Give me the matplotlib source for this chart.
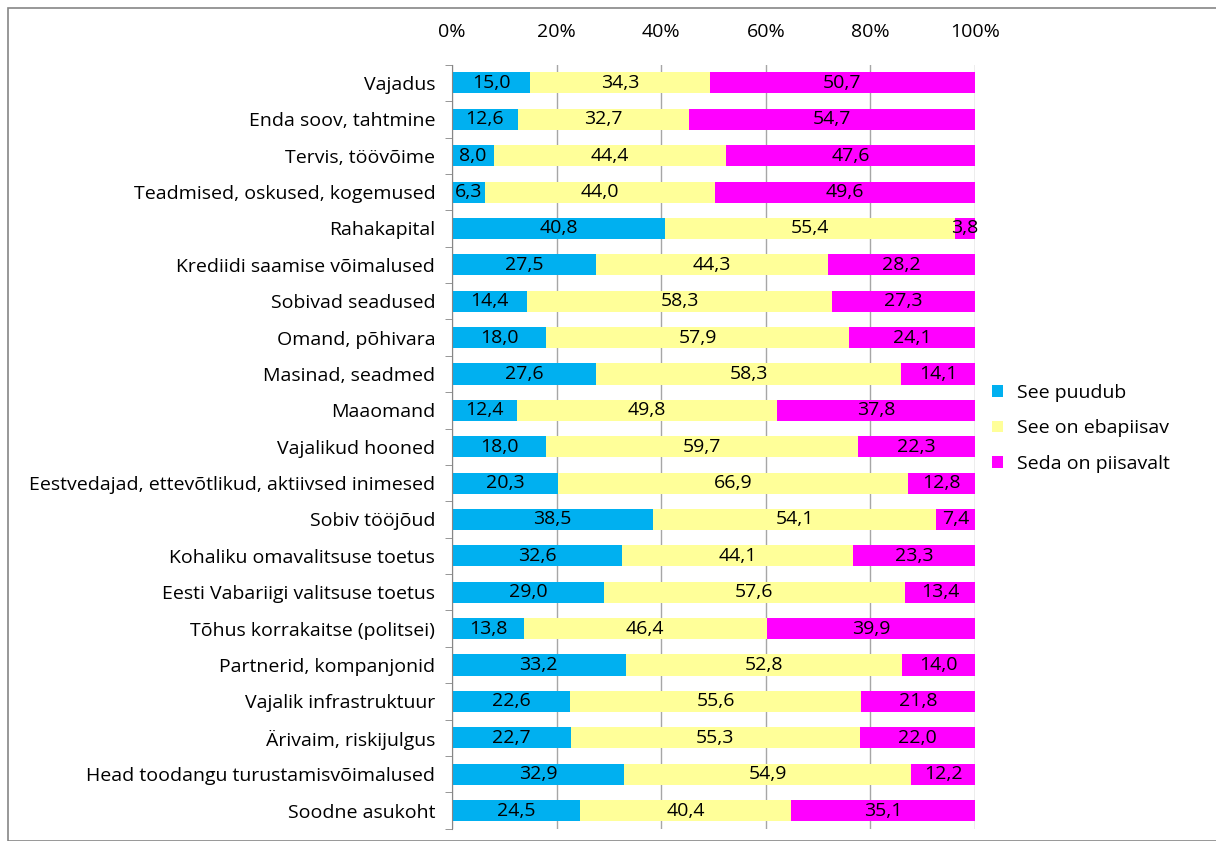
import numpy as np
import matplotlib
matplotlib.use('Agg')
from matplotlib import pyplot as plt
from matplotlib.patches import Rectangle

plt.rcParams['font.family'] = ['Open Sans', 'DejaVu Sans']

# categories (top to bottom)
categories = ['Vajadus', 'Enda soov, tahtmine', 'Tervis, töövõime',
              'Teadmised, oskused, kogemused', 'Rahakapital',
              'Krediidi saamise võimalused', 'Sobivad seadused',
              'Omand, põhivara', 'Masinad, seadmed', 'Maaomand',
              'Vajalikud hooned', 'Eestvedajad, ettevõtlikud, aktiivsed inimesed',
              'Sobiv tööjõud', 'Kohaliku omavalitsuse toetus',
              'Eesti Vabariigi valitsuse toetus', 'Tõhus korrakaitse (politsei)',
              'Partnerid, kompanjonid', 'Vajalik infrastruktuur',
              'Ärivaim, riskijulgus', 'Head toodangu turustamisvõimalused',
              'Soodne asukoht']

puudub = [15.0, 12.6, 8.0, 6.3, 40.8, 27.5, 14.4, 18.0, 27.6, 12.4, 18.0,
          20.3, 38.5, 32.6, 29.0, 13.8, 33.2, 22.6, 22.7, 32.9, 24.5]
ebapiisav = [34.3, 32.7, 44.4, 44.0, 55.4, 44.3, 58.3, 57.9, 58.3, 49.8, 59.7,
             66.9, 54.1, 44.1, 57.6, 46.4, 52.8, 55.6, 55.3, 54.9, 40.4]
piisavalt = [50.7, 54.7, 47.6, 49.6, 3.8, 28.2, 27.3, 24.1, 14.1, 37.8, 22.3,
             12.8, 7.4, 23.3, 13.4, 39.9, 14.0, 21.8, 22.0, 12.2, 35.1]

series_names = ['See puudub', 'See on ebapiisav', 'Seda on piisavalt']
colors = ['#00B0F0', '#FFFF99', '#FF00FF']
x_ticks = [0, 20, 40, 60, 80, 100]

vals = np.array([puudub, ebapiisav, piisavalt])
shares = vals / vals.sum(axis=0) * 100   # 100% stacked

fig = plt.figure(figsize=(12.16, 8.41), dpi=100)
ax = fig.add_axes([0.3717, 0.0146, 0.4301, 0.9084])

y = np.arange(len(categories))
left = np.zeros(len(categories))
for i in range(3):
    ax.barh(y, shares[i], left=left, height=0.58, color=colors[i],
            label=series_names[i], zorder=2)
    for j in range(len(categories)):
        ax.text(left[j] + shares[i][j] / 2, y[j],
                f'{vals[i][j]:.1f}'.replace('.', ','),
                ha='center', va='center', fontsize=14, color='black', zorder=3)
    left += shares[i]

ax.set_xlim(0, 100)
ax.set_ylim(len(categories) - 0.5, -0.5)
ax.set_xticks(x_ticks)
ax.set_xticklabels([f'{t}%' for t in x_ticks], fontsize=14)
ax.xaxis.tick_top()
ax.tick_params(axis='x', length=0, pad=17)
ax.set_yticks(y)
ax.set_yticklabels(categories, fontsize=14)
ax.tick_params(axis='y', length=0, pad=12)
ax.set_yticks(np.arange(-0.5, len(categories), 1), minor=True)
ax.tick_params(axis='y', which='minor', length=5, color='#868686', direction='out')
ax.grid(axis='x', color='#A6A6A6', linewidth=1, zorder=0)
for s in ['top', 'right', 'bottom']:
    ax.spines[s].set_visible(False)
ax.spines['left'].set_color('#868686')

leg = ax.legend(loc='center left', bbox_to_anchor=(1.0, 0.524), frameon=False,
                fontsize=14, handlelength=0.55, handleheight=0.55,
                labelspacing=0.9, handletextpad=0.7)

fig.patches.append(Rectangle((0.0066, 0.0), 1.0, 0.9905, transform=fig.transFigure,
                             fill=False, edgecolor='#868686', linewidth=1.2))

fig.savefig('out.png', dpi=100)
